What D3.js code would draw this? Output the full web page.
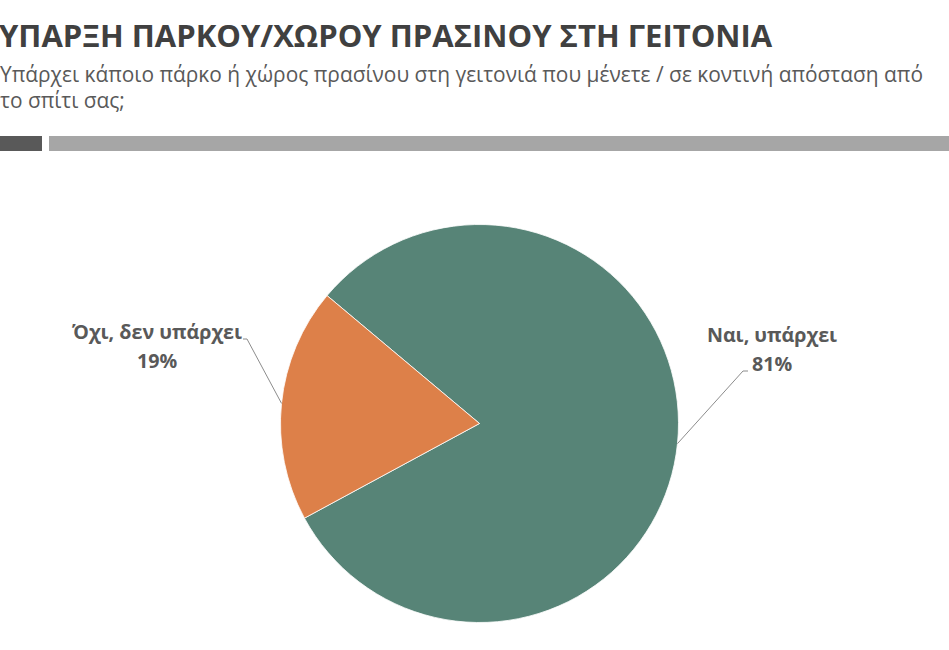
<!DOCTYPE html>
<html>
<head>
<meta charset="utf-8">
<script src="https://cdn.jsdelivr.net/npm/d3@7"></script>
<style>
  html, body { margin: 0; padding: 0; background: #fff; }
  svg { display: block; }
</style>
</head>
<body>
<svg id="chart" width="949" height="650"></svg>
<script>
// Survey answers and their shares (%)
const categories = ["Ναι, υπάρχει", "Όχι, δεν υπάρχει"];
const values = [81, 19];
const colors = ["#578477", "#dd8049"];

const titleText = "ΥΠΑΡΞΗ ΠΑΡΚΟΥ/ΧΩΡΟΥ ΠΡΑΣΙΝΟΥ ΣΤΗ ΓΕΙΤΟΝΙΑ";
const subtitleLines = [
  "Υπάρχει κάποιο πάρκο ή χώρος πρασίνου στη γειτονιά που μένετε / σε κοντινή απόσταση από",
  "το σπίτι σας;"
];

const svg = d3.select("#chart");
const font = "'Open Sans', 'Noto Sans', sans-serif";

// Header
svg.append("text")
  .attr("x", -1).attr("y", 47)
  .attr("font-family", font).attr("font-weight", 700)
  .attr("font-size", 31).attr("fill", "#404040")
  .text(titleText);

svg.selectAll("text.sub").data(subtitleLines).join("text")
  .attr("class", "sub")
  .attr("x", 0).attr("y", (d, i) => 82 + i * 26)
  .attr("font-family", font).attr("font-size", 20.9)
  .attr("fill", "#595959")
  .text(d => d);

// Divider bars under the header
svg.append("rect").attr("x", 0).attr("y", 136).attr("width", 42).attr("height", 15).attr("fill", "#595959");
svg.append("rect").attr("x", 49).attr("y", 136).attr("width", 900).attr("height", 15).attr("fill", "#a6a6a6");

// Pie
const cx = 479.5, cy = 423.5, r = 199;
const start = -50 * Math.PI / 180;
const pie = d3.pie().sort(null).startAngle(start).endAngle(start + 2 * Math.PI);
const arcs = pie(values);
const arc = d3.arc().innerRadius(0).outerRadius(r);

const g = svg.append("g").attr("transform", `translate(${cx},${cy})`);
g.selectAll("path").data(arcs).join("path")
  .attr("d", arc)
  .attr("fill", (d, i) => colors[i])
  .attr("stroke", "#ffffff").attr("stroke-width", 0.8);

// Data labels with leader lines
const labels = [
  { anchor: [772, 342], elbow: [743, 371], end: [748, 371] },
  { anchor: [157, 339], elbow: [247, 339], end: [243, 339] }
];

arcs.forEach((d, i) => {
  const mid = (d.startAngle + d.endAngle) / 2;
  const px = cx + r * Math.sin(mid);
  const py = cy - r * Math.cos(mid);
  const L = labels[i];
  svg.append("polyline")
    .attr("points", [[px, py], L.elbow, L.end].map(p => p.join(",")).join(" "))
    .attr("fill", "none").attr("stroke", "#8c8c8c").attr("stroke-width", 1);

  const t = svg.append("text")
    .attr("text-anchor", "middle")
    .attr("font-family", font).attr("font-weight", 700)
    .attr("font-size", 19.7).attr("fill", "#595959");
  t.append("tspan").attr("x", L.anchor[0]).attr("y", L.anchor[1]).text(categories[i]);
  t.append("tspan").attr("x", L.anchor[0]).attr("y", L.anchor[1] + 29).text(d.data + "%");
});
</script>
</body>
</html>
